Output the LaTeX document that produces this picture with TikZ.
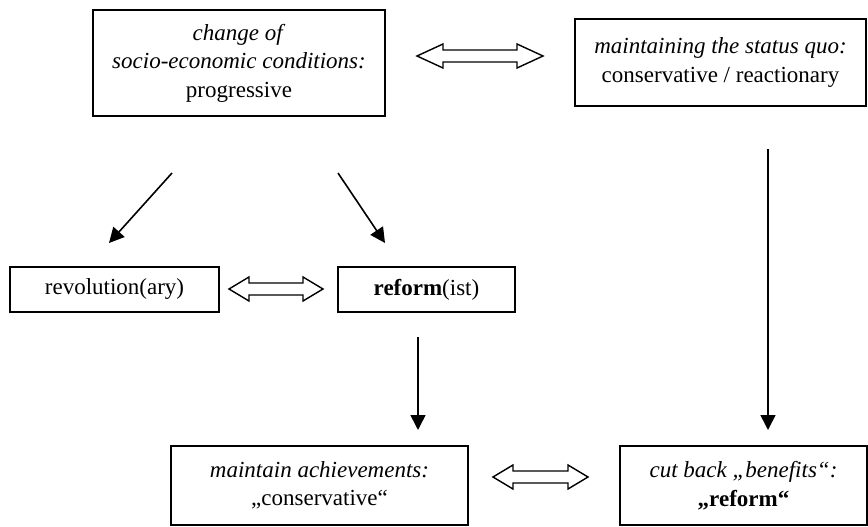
\documentclass[tikz,border=0pt]{standalone}
\usepackage{fontspec}
\setmainfont{Liberation Serif}
\usetikzlibrary{arrows.meta}
\newcommand\dblarr[3]{%
  \draw[dblstyle,shift={(#1)}] (-#2,0) -- ({-#2+#3},12) -- ({-#2+#3},6) -- ({#2-#3},6) -- ({#2-#3},12) -- (#2,0)
    -- ({#2-#3},-12) -- ({#2-#3},-6) -- ({-#2+#3},-6) -- ({-#2+#3},-12) -- cycle;}
\begin{document}
\begin{tikzpicture}[x=1pt,y=-1pt,
  box/.style={draw,line width=1.5pt,inner sep=0pt,align=center,font=\fontsize{23}{28.5}\selectfont},
  arr/.style={line width=1.6pt,-{Triangle[length=15pt,width=15pt]}},
  dblstyle/.style={line width=1.4pt,line join=miter}]
\useasboundingbox (0,0) rectangle (868,527);
\node[box,minimum width=292pt,minimum height=106pt] (b1) at (239,63)
  {\textit{change of}\\\textit{socio-economic conditions:}\\progressive};
\node[box,minimum width=291pt,minimum height=87pt] (b2) at (720.5,62.5)
  {\textit{maintaining the status quo:}\\conservative / reactionary};
\node[box,minimum width=209pt,minimum height=45pt] (rev) at (114.5,289.5) {revolution(ary)};
\node[box,minimum width=177pt,minimum height=45pt] (ref) at (426.5,289.5) {\textbf{reform}(ist)};
\node[box,minimum width=297pt,minimum height=79pt] (m) at (319.5,485.5)
  {\textit{maintain achievements:}\\„conservative“};
\node[box,minimum width=247pt,minimum height=79pt] (c) at (743.5,485.5)
  {\textit{cut back „benefits“:}\\\textbf{„reform“}};
\coordinate (d1) at (480,56);
\coordinate (d2) at (276,289);
\coordinate (d3) at (540.5,477);
\dblarr{d1}{63}{26}
\dblarr{d2}{47}{20}
\dblarr{d3}{47.5}{20}
\coordinate (s1) at (172,173); \coordinate (t1) at (109,243);
\coordinate (s2) at (338,173); \coordinate (t2) at (385,243);
\coordinate (s3) at (418,337); \coordinate (t3) at (418,430);
\coordinate (s4) at (768,149); \coordinate (t4) at (768,430);
\draw[arr] (s1) -- (t1);
\draw[arr] (s2) -- (t2);
\draw[arr] (s3) -- (t3);
\draw[arr] (s4) -- (t4);
\end{tikzpicture}
\end{document}
